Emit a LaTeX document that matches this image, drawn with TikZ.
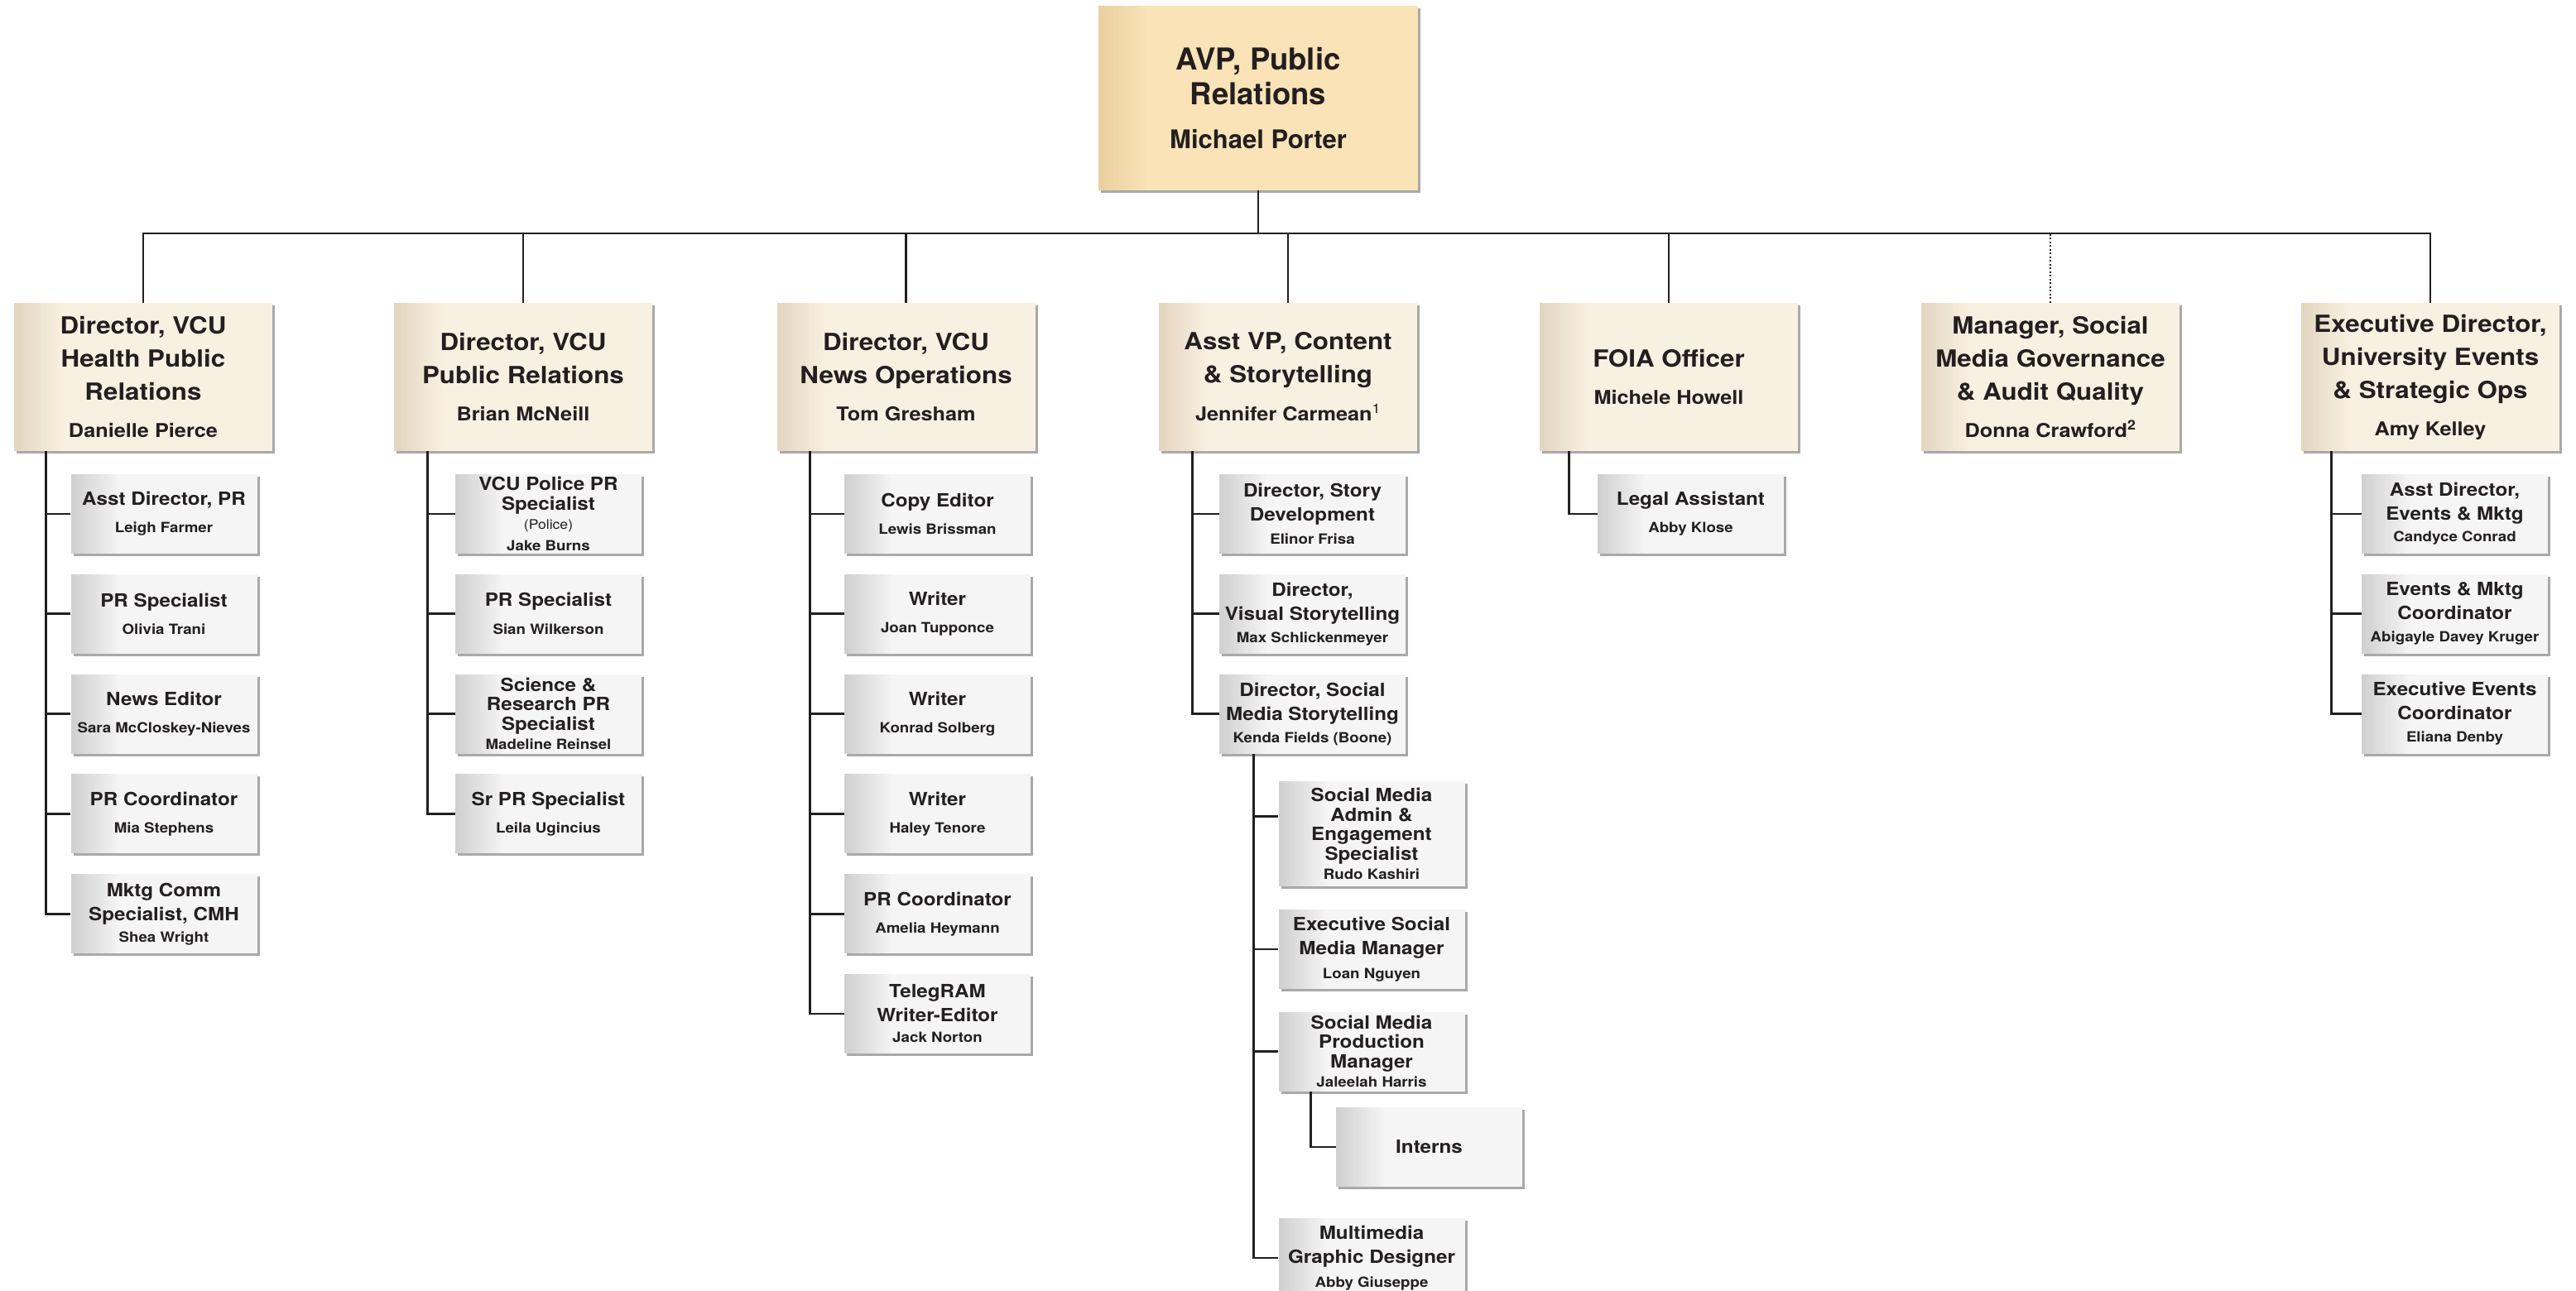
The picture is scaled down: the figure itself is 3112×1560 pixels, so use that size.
\documentclass[tikz,border=0pt]{standalone}
\usepackage{fontspec}
\setmainfont{TeX Gyre Heros}
\newfontfamily\ocHerosW[FakeStretch=1.1]{TeX Gyre Heros}
\newfontfamily\ocHerosN{TeX Gyre Heros}
\usetikzlibrary{shadows}
\definecolor{ink}{HTML}{231F20}
\definecolor{topc}{HTML}{F9E3B7}
\definecolor{topd}{HTML}{EACF9F}
\definecolor{lonec}{HTML}{F8F0E1}
\definecolor{loned}{HTML}{E3D6C0}
\definecolor{chc}{HTML}{F5F5F5}
\definecolor{chd}{HTML}{D0D0D0}
\definecolor{shd}{HTML}{A0A0A0}
\newcommand\ocTopT{\ocHerosN\bfseries\fontsize{36.5}{42}\selectfont}
\newcommand\ocTopN{\ocHerosN\bfseries\fontsize{31}{36}\selectfont}
\newcommand\ocLT{\ocHerosW\bfseries\fontsize{28.5}{40}\selectfont}
\newcommand\ocLN{\ocHerosW\bfseries\fontsize{23}{28}\selectfont}
\newcommand\ocCT{\ocHerosW\bfseries\fontsize{22}{29}\selectfont}
\newcommand\ocCTt{\ocHerosW\bfseries\fontsize{22}{23.5}\selectfont}
\newcommand\ocCN{\ocHerosW\bfseries\fontsize{17}{20}\selectfont}
\newcommand\ocCP{\ocHerosW\mdseries\fontsize{16}{20}\selectfont}
\tikzset{
  shadedbox/.style 2 args={fill=#2,
    path picture={\foreach \i in {0,...,29}{\pgfmathtruncatemacro\ocpc{\i*100/29}
      \fill[#2!\ocpc!#1] ([xshift=\i*2pt]path picture bounding box.south west) rectangle ([xshift=\i*2pt+2.6pt]path picture bounding box.north west);}},
    drop shadow={shadow xshift=3pt, shadow yshift=-3pt, fill=shd, opacity=0.9}},
  basebox/.style={rectangle, inner sep=0pt, align=center, text=ink},
  topbox/.style={basebox, shadedbox={topd}{topc}, minimum width=386pt, minimum height=223pt, font=\ocTopT},
  lbox/.style={basebox, shadedbox={loned}{lonec}, minimum width=312pt, minimum height=179pt, font=\ocLT},
  cbox/.style={basebox, shadedbox={chd}{chc}, minimum width=225pt, minimum height=96pt, font=\ocCT},
  tight/.style={font=\ocCTt},
  link/.style={draw=ink, line width=2.7pt},
  dotlink/.style={draw=ink, line width=2pt, dash pattern=on 2pt off 2.5pt}
}
\begin{document}
\begin{tikzpicture}[x=1pt,y=-1pt]
\useasboundingbox (0,0) rectangle (3112,1560);
\fill[white] (0,0) rectangle (3112,1560);
\clip (0,0) rectangle (3112,1560);

% top
\node[topbox] (avp) at (1520,118.5) {AVP, Public\\Relations\\[11pt]{\ocTopN Michael Porter}};

% level 1
\node[lbox] (d) at (173,455.5) {Director, VCU\\Health Public\\Relations\\[5pt]{\ocLN Danielle Pierce}};
\node[lbox] (b) at (632,455.5) {Director, VCU\\Public Relations\\[5pt]{\ocLN Brian McNeill}};
\node[lbox] (t) at (1094.5,455.5) {Director, VCU\\News Operations\\[5pt]{\ocLN Tom Gresham}};
\node[lbox] (j) at (1556,455.5) {Asst VP, Content\\\& Storytelling\\[6pt]{\ocLN Jennifer Carmean\textsuperscript{\mdseries 1}}};
\node[lbox] (f) at (2016,455.5) {FOIA Officer\\[5pt]{\ocLN Michele Howell}};
\node[lbox] (m) at (2477,455.5) {Manager, Social\\Media Governance\\\& Audit Quality\\[5pt]{\ocLN Donna Crawford\textsuperscript{2}}};
\node[lbox] (e) at (2936,455.5) {Executive Director,\\University Events\\\& Strategic Ops\\[5pt]{\ocLN Amy Kelley}};

% Danielle's children
\node[cbox] (dc1) at (198,621) {Asst Director, PR\\[4pt]{\ocCN Leigh Farmer}};
\node[cbox] (dc2) at (198,741.8) {PR Specialist\\[4pt]{\ocCN Olivia Trani}};
\node[cbox] (dc3) at (198,862.6) {News Editor\\[4pt]{\ocCN Sara McCloskey-Nieves}};
\node[cbox] (dc4) at (198,983.4) {PR Coordinator\\[4pt]{\ocCN Mia Stephens}};
\node[cbox] (dc5) at (198,1104.2) {Mktg Comm\\Specialist, CMH\\[-3pt]{\ocCN Shea Wright}};

% Brian's children
\node[cbox,tight] (bc1) at (662.5,621) {VCU Police PR\\Specialist\\{\ocCP (Police)}\\[2pt]{\ocCN Jake Burns}};
\node[cbox] (bc2) at (662.5,741.8) {PR Specialist\\[5pt]{\ocCN Sian Wilkerson}};
\node[cbox,tight] (bc3) at (662.5,862.6) {Science \&\\Research PR\\Specialist\\[0pt]{\ocCN Madeline Reinsel}};
\node[cbox] (bc4) at (662.5,983.4) {Sr PR Specialist\\[4pt]{\ocCN Leila Ugincius}};

% Tom's children
\node[cbox] (tc1) at (1132.5,621) {Copy Editor\\[4pt]{\ocCN Lewis Brissman}};
\node[cbox] (tc2) at (1132.5,741.8) {Writer\\[4pt]{\ocCN Joan Tupponce}};
\node[cbox] (tc3) at (1132.5,862.6) {Writer\\[4pt]{\ocCN Konrad Solberg}};
\node[cbox] (tc4) at (1132.5,983.4) {Writer\\[4pt]{\ocCN Haley Tenore}};
\node[cbox] (tc5) at (1132.5,1104.2) {PR Coordinator\\[4pt]{\ocCN Amelia Heymann}};
\node[cbox] (tc6) at (1132.5,1225) {TelegRAM\\Writer-Editor\\[-4pt]{\ocCN Jack Norton}};

% Jennifer's children
\node[cbox] (jc1) at (1585.5,621) {Director, Story\\Development\\[-1pt]{\ocCN Elinor Frisa}};
\node[cbox] (jc2) at (1585.5,741.8) {Director,\\Visual Storytelling\\[-2pt]{\ocCN Max Schlickenmeyer}};
\node[cbox] (jc3) at (1585.5,862.6) {Director, Social\\Media Storytelling\\[-2pt]{\ocCN Kenda Fields (Boone)}};

% Kenda's children
\node[cbox,tight,minimum height=127pt] (kc1) at (1657,1007.5) {Social Media\\Admin \&\\Engagement\\Specialist\\[0pt]{\ocCN Rudo Kashiri}};
\node[cbox] (kc2) at (1657,1147) {Executive Social\\Media Manager\\[0pt]{\ocCN Loan Nguyen}};
\node[cbox,tight] (kc3) at (1657,1270.5) {Social Media\\Production\\Manager\\[0pt]{\ocCN Jaleelah Harris}};
\node[cbox] (int) at (1726.5,1386) {Interns};
\node[cbox] (kc4) at (1657,1520) {Multimedia\\Graphic Designer\\[0pt]{\ocCN Abby Giuseppe}};

% FOIA child
\node[cbox] (fc1) at (2042.5,621) {Legal Assistant\\[4pt]{\ocCN Abby Klose}};

% Exec children
\node[cbox] (ec1) at (2965.5,621) {Asst Director,\\Events \& Mktg\\[-3pt]{\ocCN Candyce Conrad}};
\node[cbox] (ec2) at (2965.5,741.8) {Events \& Mktg\\Coordinator\\[-2pt]{\ocCN Abigayle Davey Kruger}};
\node[cbox] (ec3) at (2965.5,862.6) {Executive Events\\Coordinator\\[-2pt]{\ocCN Eliana Denby}};

% bus
\coordinate (bus) at (0,282);
\draw[link] (avp.south) -- (avp.south |- bus);
\draw[link] (d.north) -- (d.north |- bus) -- (e.north |- bus) -- (e.north);
\foreach \n in {b,t,j,f} \draw[link] (\n.north) -- (\n.north |- bus);
\draw[dotlink] (m.north) -- (m.north |- bus);

% spines
\coordinate (ds) at ([xshift=39pt]d.south west);
\draw[link] (ds) |- (dc5.west);
\foreach \c in {dc1,dc2,dc3,dc4} \draw[link] (\c.west) -- (\c.west -| ds);

\coordinate (bs) at ([xshift=41pt]b.south west);
\draw[link] (bs) |- (bc4.west);
\foreach \c in {bc1,bc2,bc3} \draw[link] (\c.west) -- (\c.west -| bs);

\coordinate (ts) at ([xshift=40pt]t.south west);
\draw[link] (ts) |- (tc6.west);
\foreach \c in {tc1,tc2,tc3,tc4,tc5} \draw[link] (\c.west) -- (\c.west -| ts);

\coordinate (js) at ([xshift=41pt]j.south west);
\draw[link] (js) |- (jc3.west);
\foreach \c in {jc1,jc2} \draw[link] (\c.west) -- (\c.west -| js);

\coordinate (ks) at ([xshift=42pt]jc3.south west);
\draw[link] (ks) |- (kc4.west);
\foreach \c in {kc2,kc3} \draw[link] (\c.west) -- (\c.west -| ks);
\draw[link] ([yshift=21pt]kc1.west) -- ([yshift=21pt]kc1.west -| ks);

\coordinate (is) at ([xshift=39pt]kc3.south west);
\draw[link] (is) |- (int.west);

\coordinate (fs) at ([xshift=36pt]f.south west);
\draw[link] (fs) |- (fc1.west);

\coordinate (es) at ([xshift=37pt]e.south west);
\draw[link] (es) |- (ec3.west);
\foreach \c in {ec1,ec2} \draw[link] (\c.west) -- (\c.west -| es);
\end{tikzpicture}
\end{document}
